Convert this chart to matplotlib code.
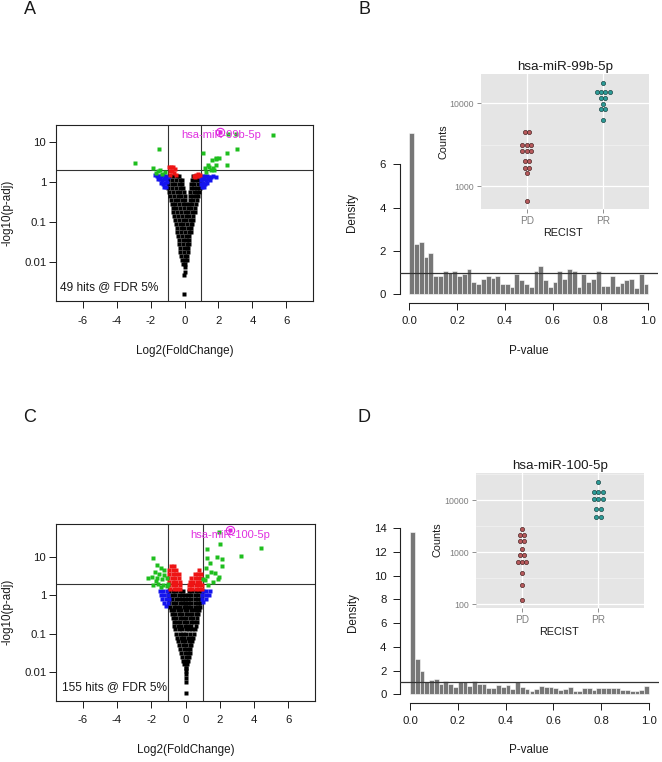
import numpy as np
import matplotlib
matplotlib.use('Agg')
import matplotlib.pyplot as plt
from matplotlib.ticker import NullLocator

plt.rcParams['font.family'] = ['Liberation Sans', 'DejaVu Sans']

# ---------------- data ----------------
# Panel A volcano (log2 fold change, -log10 adjusted p)
A_green_x = [-2.92, -1.49, -1.85, -1.65, -1.35, -1.16, -1.43, -1.55, 1.10, 1.59, 1.88, 1.39, 1.53, 1.74,
             1.29, 1.88, 2.51, 3.06, 2.51, 2.57, 3.02, 5.21, 1.45, 1.65, 1.20, 2.02, 1.84]
A_green_y = [2.88, 6.6, 2.16, 1.68, 1.6, 1.78, 2.0, 1.9, 5.3, 3.5, 4.0, 2.6, 1.95, 1.95,
             1.78, 2.6, 5.3, 6.5, 2.6, 15.6, 15.6, 15.0, 2.3, 2.2, 2.2, 4.0, 3.7]
A_red_x = [-0.92, -0.80, -0.68, -0.55, -0.88, -0.72, -0.60, -0.85, -0.50, 0.55, 0.70, 0.82, 0.90, 0.62, 0.78]
A_red_y = [2.3, 2.4, 2.3, 2.1, 1.9, 1.85, 1.7, 1.5, 1.5, 1.4, 1.45, 1.6, 1.5, 1.35, 1.38]
A_blue_x = [-1.72, -1.60, -1.48, -1.36, -1.24, -1.12, -1.00, -1.55, -1.42, -1.30, -1.18, -1.06, -1.40, -1.28,
            -1.16, -1.04, -1.20, -1.08,
            0.96, 1.08, 1.20, 1.32, 1.44, 1.56, 1.68, 1.85, 1.00, 1.12, 1.24, 1.36, 1.48, 0.98, 1.10, 1.22,
            1.34, 1.02, 1.14]
A_blue_y = [1.45, 1.40, 1.42, 1.38, 1.45, 1.40, 1.35, 1.15, 1.20, 1.10, 1.15, 1.20, 0.95, 0.90,
            0.95, 1.00, 0.75, 0.72,
            1.35, 1.40, 1.38, 1.42, 1.35, 1.30, 1.38, 1.33, 1.10, 1.15, 1.10, 1.15, 1.10, 0.90, 0.92, 0.88,
            0.95, 0.72, 0.75]
A_black_y = [1.41, 1.12, 0.89, 0.71, 0.56, 0.45, 0.35, 0.28, 0.22, 0.18, 0.14, 0.11, 0.089, 0.071,
             0.056, 0.045, 0.035, 0.028, 0.022, 0.018, 0.014, 0.011, 0.0089, 0.0075, 0.0056, 0.0047, 0.00155]
A_black_x = [
    [-0.90, -0.68, -0.46, -0.30, 0.48, 0.68, 0.88],
    [-0.95, -0.73, -0.51, -0.29, -0.15, 0.42, 0.62, 0.82, 0.95],
    [-0.98, -0.76, -0.54, -0.32, -0.12, 0.38, 0.58, 0.78, 0.95],
    [-0.95, -0.73, -0.51, -0.29, -0.07, 0.36, 0.56, 0.76, 0.90],
    [-0.90, -0.68, -0.46, -0.24, -0.02, 0.34, 0.54, 0.74, 0.86],
    [-0.85, -0.63, -0.41, -0.19, 0.03, 0.30, 0.50, 0.70, 0.80],
    [-0.80, -0.58, -0.36, -0.14, 0.05, 0.30, 0.50, 0.74],
    [-0.75, -0.53, -0.31, -0.09, 0.10, 0.26, 0.46, 0.68],
    [-0.70, -0.48, -0.26, -0.04, 0.18, 0.40, 0.62],
    [-0.65, -0.43, -0.21, 0.01, 0.23, 0.45, 0.60],
    [-0.60, -0.38, -0.16, 0.06, 0.28, 0.50],
    [-0.55, -0.33, -0.11, 0.11, 0.33, 0.50],
    [-0.50, -0.28, -0.06, 0.16, 0.38, 0.45],
    [-0.45, -0.23, -0.01, 0.21, 0.40],
    [-0.42, -0.20, 0.02, 0.24, 0.37],
    [-0.37, -0.15, 0.07, 0.29],
    [-0.33, -0.11, 0.11, 0.28],
    [-0.30, -0.08, 0.14, 0.25],
    [-0.27, -0.05, 0.17, 0.22],
    [-0.24, -0.02, 0.20],
    [-0.20, 0.00, 0.16],
    [-0.15, 0.00, 0.12],
    [-0.08, 0.04],
    [0.02],
    [0.02],
    [-0.01],
    [-0.02],
]
A_hl = (2.08, 17.5)
A_hl_name = 'hsa-miR-99b-5p'
A_hits = '49 hits @ FDR 5%'

# Panel C volcano
C_green_x = [-1.88, -2.21, -1.65, -1.45, -1.26, -1.78, -1.53, -1.26, -1.96, -1.67, -1.37, -1.09, -1.88,
             -1.59, -1.29, -1.00, -1.72, -1.10, -1.45,
             1.27, 2.01, 1.96, 1.27, 1.86, 2.11, 1.43, 2.11, 1.21, 1.50, 1.75, 1.98, 1.27, 1.13, 1.62,
             1.33, 1.90, 1.00, 3.24, 4.41]
C_green_y = [9.1, 2.75, 5.9, 5.0, 4.4, 4.1, 3.5, 3.3, 3.0, 2.75, 2.6, 2.75, 1.84,
             2.0, 1.84, 2.0, 2.3, 1.7, 1.6,
             15.6, 21.0, 44.5, 9.1, 9.6, 8.5, 6.7, 5.7, 5.0, 4.0, 3.7, 3.0, 3.2, 2.5, 2.25,
             1.8, 2.7, 2.7, 10.4, 16.5]
C_red_x = [-0.85, -0.65, -0.95, -0.75, -0.55, -0.95, -0.75, -0.55, -0.40, -1.00, -0.80, -0.60, -0.40,
           -0.95, -0.75, -0.55, -0.35, -0.95, -0.75, -0.55, -0.35, -0.90, -0.70, -0.50, -0.30,
           0.80, 0.55, 0.75, 0.90, 0.35, 0.55, 0.75, 0.92, 0.25, 0.45, 0.65, 0.85,
           0.20, 0.40, 0.60, 0.80, 0.95, 0.20, 0.40, 0.60, 0.80, 0.95]
C_red_y = [5.6, 5.6, 4.5, 4.5, 4.5, 3.5, 3.5, 3.5, 3.5, 2.8, 2.8, 2.8, 2.8,
           2.2, 2.2, 2.2, 2.2, 1.8, 1.8, 1.8, 1.8, 1.48, 1.48, 1.48, 1.48,
           4.5, 3.5, 3.5, 3.5, 2.8, 2.8, 2.8, 2.8, 2.2, 2.2, 2.2, 2.2,
           1.8, 1.8, 1.8, 1.8, 1.8, 1.48, 1.48, 1.48, 1.48, 1.48]
C_blue_x = [-1.50, -1.30, -1.10, -1.45, -1.25, -1.05, -1.35, -1.15, -0.98, -1.25, -1.05, -1.12,
            1.00, 1.20, 1.42, 0.98, 1.18, 1.38, 0.98, 1.18, 1.00]
C_blue_y = [1.26, 1.26, 1.26, 1.0, 1.0, 1.0, 0.79, 0.79, 0.79, 0.63, 0.63, 0.52,
            1.26, 1.26, 1.26, 1.0, 1.0, 1.0, 0.79, 0.79, 0.66]
C_black_y = [1.26, 1.0, 0.79, 0.63, 0.5, 0.4, 0.32, 0.25, 0.2, 0.16, 0.13, 0.1, 0.079, 0.063,
             0.05, 0.04, 0.032, 0.025, 0.02, 0.016, 0.0126, 0.011, 0.0089, 0.0071, 0.0056, 0.0028]
C_black_x = [
    [-0.95, -0.75, -0.55, -0.35, -0.15, 0.20, 0.40, 0.60, 0.80, 0.95],
    [-1.00, -0.80, -0.60, -0.40, -0.20, -0.05, 0.15, 0.35, 0.55, 0.75, 0.95],
    [-0.98, -0.78, -0.58, -0.38, -0.18, -0.05, 0.15, 0.35, 0.55, 0.75, 0.90],
    [-0.95, -0.75, -0.55, -0.35, -0.15, -0.02, 0.15, 0.35, 0.55, 0.75, 0.85],
    [-0.90, -0.70, -0.50, -0.30, -0.10, 0.00, 0.15, 0.35, 0.55, 0.75, 0.85],
    [-0.85, -0.65, -0.45, -0.25, -0.05, 0.10, 0.30, 0.50, 0.70, 0.80],
    [-0.80, -0.60, -0.40, -0.20, 0.00, 0.20, 0.40, 0.60, 0.75],
    [-0.75, -0.55, -0.35, -0.15, 0.05, 0.25, 0.45, 0.70],
    [-0.70, -0.50, -0.30, -0.10, 0.10, 0.30, 0.50, 0.65],
    [-0.65, -0.45, -0.25, -0.05, 0.15, 0.35, 0.60],
    [-0.60, -0.40, -0.20, 0.00, 0.20, 0.40, 0.55],
    [-0.55, -0.35, -0.15, 0.05, 0.25, 0.50],
    [-0.48, -0.28, -0.08, 0.12, 0.32, 0.42],
    [-0.42, -0.22, -0.02, 0.18, 0.36],
    [-0.36, -0.16, 0.04, 0.24, 0.32],
    [-0.30, -0.10, 0.10, 0.28],
    [-0.25, -0.05, 0.15, 0.25],
    [-0.20, 0.00, 0.20],
    [-0.12, 0.05, 0.12],
    [-0.08, 0.08],
    [0.00, 0.05],
    [0.00],
    [0.02],
    [0.00],
    [0.03],
    [0.01],
]
C_hl = (2.60, 49.0)
C_hl_name = 'hsa-miR-100-5p'
C_hits = '155 hits @ FDR 5%'

# Panel B / D p-value histograms (density per 0.02 bin)
B_density = [7.46, 2.34, 2.40, 1.74, 1.89, 0.86, 0.86, 1.06, 1.00, 1.06,
             0.86, 0.95, 1.17, 0.58, 0.46, 0.71, 0.86, 0.77, 0.86, 0.46,
             0.46, 0.34, 0.92, 0.65, 0.46, 0.34, 1.06, 1.29, 0.65, 0.34,
             0.58, 1.06, 0.71, 1.17, 1.06, 0.34, 0.92, 0.58, 0.71, 1.06,
             0.40, 0.40, 0.86, 0.40, 0.52, 0.65, 0.71, 0.28, 0.92, 0.46]
D_density = [13.70, 2.98, 1.94, 1.07, 1.24, 1.32, 0.84, 1.10, 0.84, 0.62,
             1.07, 1.07, 0.70, 1.10, 0.87, 0.87, 0.51, 0.51, 0.76, 0.65,
             0.81, 0.48, 1.01, 0.59, 0.48, 0.31, 0.42, 0.73, 0.59, 0.62,
             0.51, 0.39, 0.42, 0.62, 0.25, 0.31, 0.51, 0.56, 0.37, 0.56,
             0.53, 0.53, 0.51, 0.51, 0.39, 0.37, 0.25, 0.31, 0.34, 0.70]

# Insets: counts per sample by RECIST group
groups = ['PD', 'PR']
B_PD = [4450, 4450, 3130, 3130, 3130, 2650, 2650, 2650, 2020, 2020, 1660, 1660, 1450, 664]
B_PR = [17750, 13800, 13800, 13800, 13800, 11690, 11690, 9720, 8600, 8600, 6340]
D_PD = [2760, 2140, 2140, 1650, 1650, 1170, 888, 888, 660, 660, 660, 396, 233, 122]
D_PR = [22400, 14050, 14050, 14050, 10590, 10590, 10590, 6810, 6810, 4720, 4720]

# ---------------- drawing ----------------
W, H = 662, 762
fig = plt.figure(figsize=(W / 100, H / 100), dpi=100)
TXT = '#1a1a1a'


def rect(l, t, r, b):
    return [l / W, 1 - b / H, (r - l) / W, (b - t) / H]


def ftext(px, py, s, **kw):
    fig.text(px / W, 1 - py / H, s, **kw)


def expand(rows_y, rows_x):
    xs, ys = [], []
    for y, row in zip(rows_y, rows_x):
        for x in row:
            xs.append(x)
            ys.append(y)
    return xs, ys


def volcano(r, ylim, layers, hl, hl_name, lab_xy, hits, hits_pos):
    ax = fig.add_axes(r)
    ax.set_yscale('log')
    for xs, ys, c in layers:
        ax.plot(xs, ys, 's', ms=3.0, mfc=c, mec='none', ls='none', zorder=3)
    ax.plot([hl[0]], [hl[1]], 's', ms=3.0, mfc='#E020E0', mec='none', zorder=4)
    ax.plot([hl[0]], [hl[1]], 'o', ms=6.0, mfc='none', mec='#E020E0', mew=0.8, zorder=4)
    ax.text(lab_xy[0], lab_xy[1], hl_name, color='#E030E0', fontsize=8.0,
            ha='center', va='center', zorder=5)
    ax.axhline(2, color='#333333', lw=0.8, zorder=2)
    ax.axvline(-1, color='#333333', lw=0.8, zorder=2)
    ax.axvline(1, color='#333333', lw=0.8, zorder=2)
    ax.set_xlim(-7.56, 7.56)
    ax.set_ylim(*ylim)
    ax.set_xticks([-6, -4, -2, 0, 2, 4, 6])
    ax.set_xticklabels(['-6', '-4', '-2', '0', '2', '4', '6'])
    ax.set_yticks([0.01, 0.1, 1, 10])
    ax.set_yticklabels(['0.01', '0.1', '1', '10'])
    ax.yaxis.set_minor_locator(NullLocator())
    ax.tick_params(direction='out', length=5, width=0.7, labelsize=8.2, colors=TXT)
    ax.tick_params(axis='x', pad=5.5)
    ax.tick_params(axis='y', pad=2)
    for s in ax.spines.values():
        s.set_linewidth(0.8)
        s.set_color('#222222')
    ax.text(hits_pos[0], hits_pos[1], hits, transform=ax.transAxes, fontsize=8.6,
            color=TXT, ha='left', va='center')
    return ax


def hist(r, ylim, dens, ytop):
    ax = fig.add_axes(r)
    ax.set_facecolor('none')
    edges = np.linspace(0, 1, len(dens) + 1)
    ax.bar(edges[:-1], dens, width=np.diff(edges), align='edge', color='#777777',
           edgecolor='white', linewidth=0.4, zorder=2)
    ax.axhline(1, color='#333333', lw=0.9, zorder=3)
    ax.set_xlim(-0.04, 1.04)
    ax.set_ylim(*ylim)
    for k in ('top', 'right'):
        ax.spines[k].set_visible(False)
    ax.spines['left'].set_bounds(0, ytop)
    ax.spines['bottom'].set_bounds(0, 1)
    ax.spines['bottom'].set_position(('outward', 1.8))
    for k in ('left', 'bottom'):
        ax.spines[k].set_linewidth(0.8)
        ax.spines[k].set_color('#222222')
    ax.set_xticks([0, 0.2, 0.4, 0.6, 0.8, 1.0])
    ax.set_xticklabels(['0.0', '0.2', '0.4', '0.6', '0.8', '1.0'])
    ticks = list(range(0, ytop + 1, 2))
    ax.set_yticks(ticks)
    ax.set_yticklabels([str(t) for t in ticks])
    ax.tick_params(direction='out', length=5, width=0.7, labelsize=8.2, colors=TXT)
    ax.tick_params(axis='x', pad=4.3)
    ax.tick_params(axis='y', pad=5)
    return ax


def stack(vals, xc, step):
    xs, ys = [], []
    for v in sorted(set(vals)):
        n = vals.count(v)
        for i in range(n):
            xs.append(xc + (i - (n - 1) / 2) * step)
            ys.append(v)
    return xs, ys


def inset(r, ylim, majors, minors, pd_vals, pr_vals):
    ax = fig.add_axes(r)
    ax.set_facecolor('#E5E5E5')
    ax.set_yscale('log')
    ax.set_xlim(0.4, 2.6)
    ax.set_ylim(*ylim)
    for m in minors:
        ax.axhline(m, color='#F2F2F2', lw=0.5, zorder=0.5)
    for m in majors:
        ax.axhline(m, color='white', lw=0.9, zorder=0.6)
    for x in (1, 2):
        ax.axvline(x, color='white', lw=0.9, zorder=0.6)
    for s in ax.spines.values():
        s.set_visible(False)
    step = 0.056
    xs, ys = stack(pd_vals, 1, step)
    ax.plot(xs, ys, 'o', ms=3.0, mfc='#B85A5C', mec='#4a2626', mew=0.5, ls='none', zorder=3)
    xs, ys = stack(pr_vals, 2, step)
    ax.plot(xs, ys, 'o', ms=3.0, mfc='#2C9C98', mec='#1c4745', mew=0.5, ls='none', zorder=3)
    ax.set_yticks(majors)
    ax.set_yticklabels([str(int(m)) for m in majors])
    ax.yaxis.set_minor_locator(NullLocator())
    ax.set_xticks([1, 2])
    ax.set_xticklabels(groups)
    ax.tick_params(axis='y', direction='out', length=3, width=0.6, color='#7f7f7f',
                   labelcolor='#7f7f7f', labelsize=6.3, pad=2)
    ax.tick_params(axis='x', direction='out', length=3, width=0.6, color='#7f7f7f',
                   labelcolor='#7f7f7f', labelsize=7.2, pad=2)
    return ax


# Panel A
volcano(rect(56, 125, 313, 301), (0.00105, 26.2),
        [(*expand(A_black_y, A_black_x), '#000000'),
         (A_blue_x, A_blue_y, '#1414EE'),
         (A_red_x, A_red_y, '#EE1414'),
         (A_green_x, A_green_y, '#1EBE1E')],
        A_hl, A_hl_name, (2.14, 14.7), A_hits, (0.017, 0.078))
ftext(8, 213, '-log10(p-adj)', rotation=90, ha='center', va='center', fontsize=8.4, color=TXT)
ftext(185, 351, 'Log2(FoldChange)', ha='center', va='center', fontsize=8.4, color=TXT)

# Panel C
volcano(rect(56, 524.3, 315, 700.7), (10 ** -2.74, 10 ** 1.84),
        [(*expand(C_black_y, C_black_x), '#000000'),
         (C_blue_x, C_blue_y, '#1414EE'),
         (C_red_x, C_red_y, '#EE1414'),
         (C_green_x, C_green_y, '#1EBE1E')],
        C_hl, C_hl_name, (2.62, 36.5), C_hits, (0.022, 0.079))
ftext(8, 612, '-log10(p-adj)', rotation=90, ha='center', va='center', fontsize=8.4, color=TXT)
ftext(186, 750, 'Log2(FoldChange)', ha='center', va='center', fontsize=8.4, color=TXT)

# Panel B
hist(rect(399.7, 126, 657.9, 300.8), (-0.30, 7.77), B_density, 6)
ftext(351.7, 212.5, 'Density', rotation=90, ha='center', va='center', fontsize=8.4, color=TXT)
ftext(529, 351, 'P-value', ha='center', va='center', fontsize=8.4, color=TXT)
inset(rect(480.7, 74, 649.3, 209), (10 ** 2.722, 10 ** 4.354), [1000, 10000], [10 ** 3.5], B_PD, B_PR)
ftext(565, 67, 'hsa-miR-99b-5p', ha='center', va='center', fontsize=9.6, color=TXT)
ftext(443.3, 142, 'Counts', rotation=90, ha='center', va='center', fontsize=7.8, color=TXT)
ftext(563.3, 232.7, 'RECIST', ha='center', va='center', fontsize=7.8, color=TXT)

# Panel D
hist(rect(400.4, 525.3, 658.6, 700.8), (-0.55, 14.25), D_density, 14)
ftext(353, 612.5, 'Density', rotation=90, ha='center', va='center', fontsize=8.4, color=TXT)
ftext(529.3, 750, 'P-value', ha='center', va='center', fontsize=8.4, color=TXT)
inset(rect(476, 472.7, 644.3, 607.7), (10 ** 1.937, 10 ** 4.523), [100, 1000, 10000],
      [10 ** 2.5, 10 ** 3.5, 10 ** 4.5], D_PD, D_PR)
ftext(560, 466, 'hsa-miR-100-5p', ha='center', va='center', fontsize=9.6, color=TXT)
ftext(437.3, 540, 'Counts', rotation=90, ha='center', va='center', fontsize=7.8, color=TXT)
ftext(559.3, 631.7, 'RECIST', ha='center', va='center', fontsize=7.8, color=TXT)

# Panel letters
for lab, px, py in [('A', 30, 9), ('B', 364, 9), ('C', 30, 418), ('D', 364, 418)]:
    ftext(px, py, lab, ha='center', va='center', fontsize=13, color=TXT)

fig.savefig('out.png', dpi=100)
